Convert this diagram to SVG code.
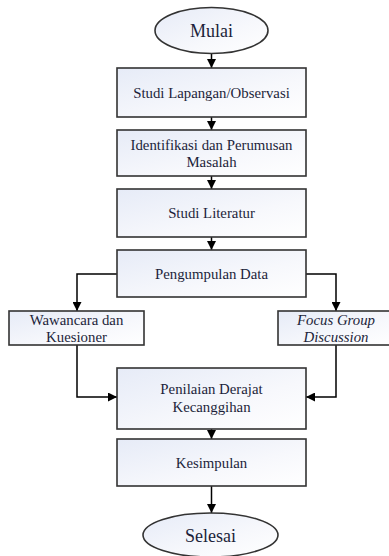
<svg xmlns="http://www.w3.org/2000/svg" width="389" height="556" viewBox="0 0 389 556" font-family="'Liberation Serif', 'Times New Roman', serif">
<defs>
<linearGradient id="g" x1="0" y1="0" x2="1" y2="1">
<stop offset="0" stop-color="#e6ebf7"/>
<stop offset="0.6" stop-color="#f7f8fc"/>
<stop offset="1" stop-color="#ffffff"/>
</linearGradient>
<marker id="ah" viewBox="0 0 10 10" refX="10" refY="5" markerWidth="9" markerHeight="9" markerUnits="userSpaceOnUse" orient="auto">
<path d="M0,0 L10,5 L0,10 z" fill="#000"/>
</marker>
<style>
.b{fill:url(#g);stroke:#333;stroke-width:1.6}
.t{font-family:'Liberation Serif','Times New Roman',serif;font-size:14.8px;fill:#1c1f3a;text-anchor:middle}
.big{font-size:18px}
.i{font-style:italic}
.c{fill:none;stroke:#000;stroke-width:1.5;marker-end:url(#ah)}
</style>
</defs>
<rect width="389" height="556" fill="#fff"/>
<g id="connectors">
<path class="c" d="M211.5,53 V68"/>
<path class="c" d="M211.5,117 V130"/>
<path class="c" d="M211.5,176 V189"/>
<path class="c" d="M211.5,237 V250"/>
<path class="c" d="M117,274 H77 V311"/>
<path class="c" d="M306,274 H336 V311"/>
<path class="c" d="M77,345 V397 H117"/>
<path class="c" d="M336,345 V397 H306"/>
<path class="c" d="M211.5,429 V439"/>
<path class="c" d="M211.5,486 V513"/>
</g>
<g id="mulai">
<ellipse class="b" cx="211.5" cy="30.5" rx="56.5" ry="23"/>
<text class="t big" x="211.5" y="37">Mulai</text>
</g>
<g id="studi-lapangan">
<rect class="b" x="117" y="68" width="189" height="49"/>
<text class="t" x="211.5" y="97.5">Studi Lapangan/Observasi</text>
</g>
<g id="identifikasi">
<rect class="b" x="117" y="130" width="189" height="46"/>
<text class="t" x="211.5" y="150">Identifikasi dan Perumusan</text>
<text class="t" x="211.5" y="167">Masalah</text>
</g>
<g id="studi-literatur">
<rect class="b" x="117" y="189" width="189" height="48"/>
<text class="t" x="211.5" y="218">Studi Literatur</text>
</g>
<g id="pengumpulan">
<rect class="b" x="117" y="250" width="189" height="47"/>
<text class="t" x="211.5" y="278.5">Pengumpulan Data</text>
</g>
<g id="wawancara">
<rect class="b" x="9" y="311" width="135" height="34"/>
<text class="t" x="76.5" y="325">Wawancara dan</text>
<text class="t" x="76.5" y="342">Kuesioner</text>
</g>
<g id="fgd">
<rect class="b" x="278" y="311" width="116" height="34"/>
<text class="t i" x="336" y="325">Focus Group</text>
<text class="t i" x="336" y="342">Discussion</text>
</g>
<g id="penilaian">
<rect class="b" x="117" y="368" width="189" height="61"/>
<text class="t" x="211.5" y="394">Penilaian Derajat</text>
<text class="t" x="211.5" y="412">Kecanggihan</text>
</g>
<g id="kesimpulan">
<rect class="b" x="117" y="439" width="189" height="47"/>
<text class="t" x="211.5" y="467.5">Kesimpulan</text>
</g>
<g id="selesai">
<ellipse class="b" cx="210.5" cy="535" rx="67.5" ry="22"/>
<text class="t big" x="210.5" y="541.5">Selesai</text>
</g>
</svg>
